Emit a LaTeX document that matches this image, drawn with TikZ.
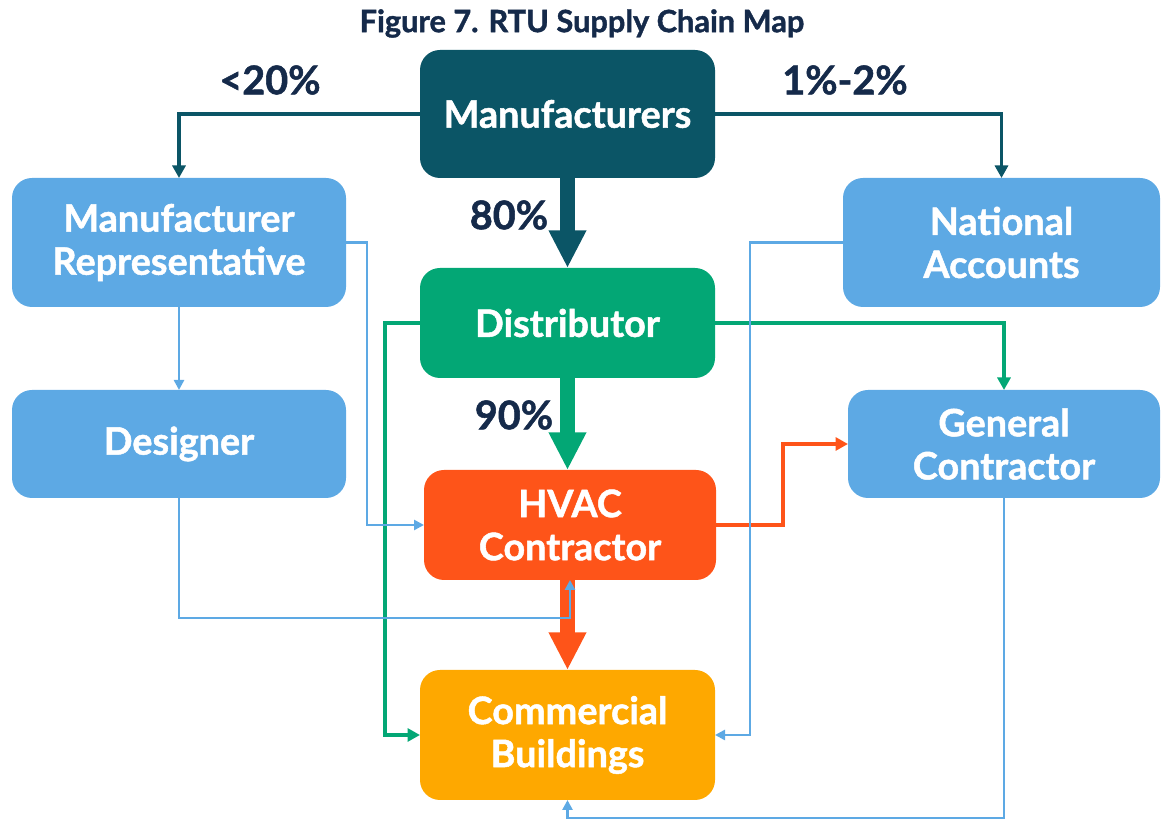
\documentclass[tikz,border=0pt]{standalone}
\usepackage{fontspec}
\setmainfont{Lato}[BoldFeatures={FakeBold=1.3}]
\usetikzlibrary{arrows.meta,positioning,calc}

\definecolor{mfrteal}{RGB}{11,85,102}
\definecolor{lightblue}{RGB}{93,169,228}
\definecolor{distgreen}{RGB}{3,167,117}
\definecolor{hvacorange}{RGB}{254,84,25}
\definecolor{bldgamber}{RGB}{254,168,0}
\definecolor{navytext}{RGB}{21,42,74}

\begin{document}
\begin{tikzpicture}
\tikzstyle{box}=[rounded corners=0.4cm, inner sep=0pt, outer sep=0pt,
text=white, font=\fontsize{21.5}{24.5}\selectfont\bfseries, align=center]
\tikzstyle{pct}=[text=navytext, font=\fontsize{22.5}{25}\selectfont\bfseries]
\tikzstyle{thin}=[line width=2.2pt, -{Triangle[length=0.25cm,width=0.26cm]}]
\tikzstyle{bluethin}=[lightblue, line width=1.6pt, -{Triangle[length=0.2cm,width=0.2cm]}]
\tikzstyle{fat}=[line width=8pt, -{Triangle[length=0.75cm,width=0.7cm]}]

\useasboundingbox (0,0) rectangle (23.26,16.4);

\node[text=navytext, font=\fontsize{17.5}{20}\selectfont\bfseries] (title) at (11.64,15.93) {Figure 7. RTU Supply Chain Map};

\node[box, fill=mfrteal, minimum width=5.9cm, minimum height=2.56cm] (mfr) at (11.35,14.12) {Manufacturers};
\node[box, fill=lightblue, minimum width=6.68cm, minimum height=2.58cm] (rep) at (3.58,11.55) {Manufacturer\\Representative};
\node[box, fill=lightblue, minimum width=6.34cm, minimum height=2.58cm] (nat) at (20.03,11.55) {National\\Accounts};
\node[box, fill=distgreen, minimum width=5.9cm, minimum height=2.2cm] (dist) at (11.35,9.94) {Distributor};
\node[box, fill=lightblue, minimum width=6.68cm, minimum height=2.16cm] (des) at (3.58,7.52) {Designer};
\node[box, fill=lightblue, minimum width=6.24cm, minimum height=2.16cm] (gc) at (20.08,7.52) {General\\Contractor};
\node[box, fill=hvacorange, minimum width=5.84cm, minimum height=2.2cm] (hvac) at (11.4,5.9) {HVAC\\Contractor};
\node[box, fill=bldgamber, minimum width=5.9cm, minimum height=2.6cm] (cb) at (11.35,1.7) {Commercial\\Buildings};

\node[pct] (p20) at (5.4,14.8) {<20\%};
\node[pct] (p12) at (16.9,14.8) {1\%-2\%};
\node[pct] (p80) at (10.18,12.1) {80\%};
\node[pct] (p90) at (10.28,8.1) {90\%};

% manufacturers out
\draw[thin, mfrteal] (mfr.west) -| (rep.north);
\draw[thin, mfrteal] (mfr.east) -| (nat.north);
\draw[fat, mfrteal] (mfr.south) -- (dist.north);

% distributor out
\draw[thin, distgreen] (dist.west) -- ++(-0.7,0) |- (cb.west);
\draw[thin, distgreen] (dist.east) -| (gc.north);
\draw[fat, distgreen] (dist.south) -- (dist.south |- hvac.north);

% hvac out
\draw[thin, hvacorange, line width=2.6pt] (hvac.east) -- ++(1.34,0) |- (gc.west);
\draw[fat, hvacorange] (cb.north |- hvac.south) -- (cb.north);

% blue ones
\draw[bluethin] (rep.east) -- ++(0.42,0) |- (hvac.west);
\draw[bluethin] (rep.south) -- (des.north);
\draw[bluethin] (des.south) |- ([yshift=-0.76cm]hvac.south) -- (hvac.south);
\draw[bluethin] (nat.west) -- ++(-1.86,0) |- (cb.east);
\draw[bluethin] (gc.south) |- ([yshift=-0.36cm]cb.south) -- (cb.south);

\end{tikzpicture}
\end{document}
